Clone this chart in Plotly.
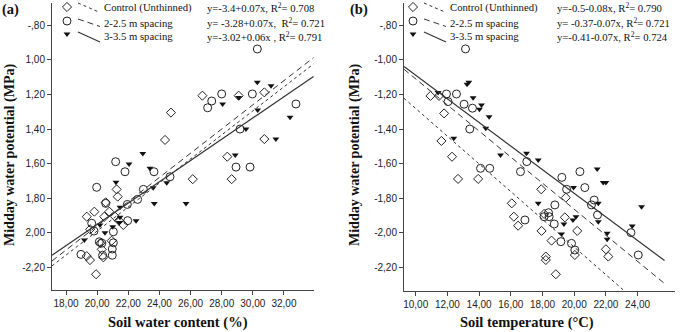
import plotly.graph_objects as go

# ---------------- data ----------------
# Panel (a): soil water content (%) vs midday water potential (MPa)
a_ctrl_x = [24.74, 24.36, 26.76, 29.09, 30.74, 30.74, 28.36, 28.64, 26.14, 21.25, 21.32, 20.55, 20.78, 19.82,
            19.33, 20.46, 21.15, 21.68, 19.55, 20.93, 20.29, 20.40, 19.33, 19.54, 19.93, 20.20, 21.40]
a_ctrl_y = [-1.305, -1.463, -1.207, -1.207, -1.188, -1.458, -1.560, -1.690, -1.690, -1.749, -1.791, -1.824, -1.878, -1.878,
            -1.907, -1.907, -1.907, -1.955, -1.980, -2.046, -2.096, -2.142, -2.135, -2.158, -2.240, -2.060, -1.930]
a_s2_x = [30.29, 28.00, 29.97, 27.36, 27.10, 32.77, 29.18, 28.92, 29.82, 21.19, 21.79, 23.65, 19.97, 22.97, 22.60,
          24.68, 20.55, 21.94, 21.96, 19.65, 21.04, 20.14, 20.30, 21.04, 20.97, 18.96, 20.97, 20.35, 19.80]
a_s2_y = [-0.937, -1.197, -1.197, -1.238, -1.277, -1.255, -1.400, -1.620, -1.620, -1.589, -1.647, -1.647, -1.737, -1.749, -1.807,
          -1.676, -1.830, -1.836, -1.930, -1.945, -1.994, -2.052, -2.060, -2.058, -2.094, -2.125, -2.130, -2.130, -1.990]
a_s3_x = [30.29, 31.17, 29.09, 28.06, 30.31, 32.39, 29.56, 31.48, 28.87, 22.93, 22.05, 23.39, 21.21, 24.47, 23.60,
          23.67, 25.71, 21.47, 21.47, 22.50, 21.42, 20.18, 21.00, 20.50, 19.18]
a_s3_y = [-1.130, -1.149, -1.217, -1.255, -1.290, -1.332, -1.400, -1.458, -1.550, -1.541, -1.602, -1.627, -1.708, -1.710, -1.740,
          -1.830, -1.830, -1.853, -1.910, -1.930, -1.940, -1.955, -1.965, -2.000, -2.042]

# Panel (b): soil temperature (°C) vs midday water potential (MPa)
b_ctrl_x = [10.93, 11.47, 11.79, 11.62, 12.29, 12.67, 13.94, 16.06, 16.19, 16.46, 17.92, 17.94, 18.10, 18.57, 18.84,
            18.21, 18.21, 19.47, 19.41, 20.04, 20.19, 22.00, 22.15]
b_ctrl_y = [-1.209, -1.209, -1.310, -1.469, -1.560, -1.688, -1.688, -1.829, -1.906, -1.958, -1.748, -1.988, -1.890, -2.044, -2.238,
            -2.136, -2.156, -1.796, -1.910, -2.127, -1.988, -2.094, -2.136]
b_s2_x = [13.14, 11.94, 12.04, 12.57, 13.05, 13.58, 13.41, 14.09, 14.67, 17.01, 16.61, 16.89, 18.78, 18.10, 18.42,
          18.38, 18.74, 19.22, 19.52, 20.36, 20.67, 21.26, 21.09, 21.47, 19.16, 19.83, 20.04, 23.58, 24.04]
b_s2_y = [-0.938, -1.198, -1.242, -1.198, -1.257, -1.280, -1.400, -1.627, -1.627, -1.588, -1.646, -1.925, -1.838, -1.906, -1.906,
          -1.883, -1.948, -1.679, -1.748, -1.646, -1.738, -1.810, -1.838, -1.896, -2.050, -2.060, -2.098, -1.998, -2.127]
b_s3_x = [13.24, 13.35, 13.62, 14.02, 14.15, 14.63, 14.42, 11.41, 12.40, 15.35, 16.99, 17.73, 17.73, 19.96, 21.45,
          21.83, 22.00, 21.52, 21.52, 24.25, 23.66, 22.08, 22.08, 19.35, 19.92, 20.11, 19.20]
b_s3_y = [-1.142, -1.130, -1.219, -1.286, -1.261, -1.329, -1.396, -1.190, -1.453, -1.550, -1.540, -1.579, -1.829, -1.738, -1.631,
          -1.708, -1.708, -1.829, -1.935, -1.848, -1.960, -2.002, -2.036, -1.948, -1.925, -1.906, -2.006]

# Fitted lines (intercept, slope) as drawn, and x extent of each fit
a_fit_intercept = [-3.38, -3.36, -3.181]
a_fit_slope = [0.0695, 0.070, 0.0615]
a_fit_xrange = [17.1, 33.9]
b_fit_intercept = [-0.483, -0.359, -0.409]
b_fit_slope = [-0.0799, -0.0752, -0.0681]
b_fit_xrange = [9.26, 25.7]

series_names = ["Control (Unthinned)", "2-2.5 m spacing", "3-3.5 m spacing"]
a_equations = ["y=-3.4+0.07x, R<sup>2</sup>= 0.708", "y= -3.28+0.07x,  R<sup>2</sup>= 0.721",
               "y=-3.02+0.06x , R<sup>2</sup>= 0.791"]
b_equations = ["y=-0.5-0.08x, R<sup>2</sup>= 0.790", "y= -0.37-0.07x, R<sup>2</sup>= 0.721",
               "y=-0.41-0.07x, R<sup>2</sup>= 0.724"]

a_xticks = [18, 20, 22, 24, 26, 28, 30, 32]
a_xticktext = ["18,00", "20,00", "22,00", "24,00", "26,00", "28,00", "30,00", "32,00"]
b_xticks = [10, 12, 14, 16, 18, 20, 22, 24]
b_xticktext = ["10,00", "12,00", "14,00", "16,00", "18,00", "20,00", "22,00", "24,00"]
yticks = [-0.8, -1.0, -1.2, -1.4, -1.6, -1.8, -2.0, -2.2]
a_yticktext = ["-,80", "1,00", "1,20", "1,40", "1,60", "1,80", "2,00", "-2,20"]
b_yticktext = ["-,80", "-1,00", "-1,20", "-1,40", "-1,60", "-1,80", "-2,00", "-2,20"]

# ---------------- styling ----------------
W, H = 685, 332
INK = "#222222"
marker_styles = [
    dict(symbol="diamond-open", size=7, color=INK, line=dict(width=1, color=INK)),
    dict(symbol="circle-open", size=8, color=INK, line=dict(width=1, color=INK)),
    dict(symbol="triangle-down", size=6, color="#111111", line=dict(width=0)),
]
line_styles = [
    dict(color="#333333", width=1, dash="dot"),
    dict(color="#333333", width=1, dash="6px,4px"),
    dict(color="#333333", width=1.2, dash="solid"),
]

def px_to_paper_x(p):
    return p / W

def px_to_paper_y(p):
    return 1 - p / H

fig = go.Figure()

panels = [
    dict(xa="x", ya="y", xs=[a_ctrl_x, a_s2_x, a_s3_x], ys=[a_ctrl_y, a_s2_y, a_s3_y],
         ic=a_fit_intercept, sl=a_fit_slope, xr=a_fit_xrange),
    dict(xa="x2", ya="y2", xs=[b_ctrl_x, b_s2_x, b_s3_x], ys=[b_ctrl_y, b_s2_y, b_s3_y],
         ic=b_fit_intercept, sl=b_fit_slope, xr=b_fit_xrange),
]

for p in panels:
    for i in range(3):
        fig.add_trace(go.Scatter(x=p["xs"][i], y=p["ys"][i], mode="markers", marker=marker_styles[i],
                                 xaxis=p["xa"], yaxis=p["ya"], showlegend=False, hoverinfo="skip"))
    for i in range(3):
        xx = p["xr"]
        yy = [p["ic"][i] + p["sl"][i] * v for v in xx]
        fig.add_trace(go.Scatter(x=xx, y=yy, mode="lines", line=line_styles[i],
                                 xaxis=p["xa"], yaxis=p["ya"], showlegend=False, hoverinfo="skip"))

# ---- manual legends in pixel overlay axis ----
legend_cfg = [
    dict(mx=67, lx0=78, lx1=100, tx=102, ex=205, eqs=a_equations),
    dict(mx=413, lx0=424, lx1=446, tx=448, ex=555, eqs=b_equations),
]
marker_rows = [7, 21, 34]
text_rows = [8, 23, 36]
line_rows = [(3, 12.5), (19, 26.5), (32, 42)]
legend_font = dict(family="Liberation Serif", size=10.7, color="#111")
annotations = []
for cfg in legend_cfg:
    for i in range(3):
        fig.add_trace(go.Scatter(x=[cfg["mx"]], y=[marker_rows[i]], mode="markers", marker=marker_styles[i],
                                 xaxis="x3", yaxis="y3", showlegend=False, hoverinfo="skip"))
        fig.add_trace(go.Scatter(x=[cfg["lx0"], cfg["lx1"]], y=list(line_rows[i]), mode="lines",
                                 line=line_styles[i], xaxis="x3", yaxis="y3", showlegend=False, hoverinfo="skip"))
        annotations.append(dict(x=px_to_paper_x(cfg["tx"]), y=px_to_paper_y(text_rows[i]), xref="paper", yref="paper",
                                text=series_names[i], showarrow=False, xanchor="left", yanchor="middle",
                                font=legend_font))
        annotations.append(dict(x=px_to_paper_x(cfg["ex"]), y=px_to_paper_y(text_rows[i]), xref="paper", yref="paper",
                                text=cfg["eqs"][i], showarrow=False, xanchor="left", yanchor="middle",
                                font=legend_font))

title_font = dict(family="Liberation Serif", size=14.5, color="#111")
ytitle_font = dict(family="Liberation Serif", size=14, color="#111")
annotations += [
    dict(x=px_to_paper_x(10), y=px_to_paper_y(9), xref="paper", yref="paper", text="<b>(a)</b>",
         showarrow=False, xanchor="center", yanchor="middle", font=title_font),
    dict(x=px_to_paper_x(359), y=px_to_paper_y(9), xref="paper", yref="paper", text="<b>(b)</b>",
         showarrow=False, xanchor="center", yanchor="middle", font=title_font),
    dict(x=px_to_paper_x(178), y=px_to_paper_y(322), xref="paper", yref="paper", text="<b>Soil water content (%)</b>",
         showarrow=False, xanchor="center", yanchor="middle", font=title_font),
    dict(x=px_to_paper_x(527), y=px_to_paper_y(322), xref="paper", yref="paper", text="<b>Soil temperature (°C)</b>",
         showarrow=False, xanchor="center", yanchor="middle", font=title_font),
    dict(x=px_to_paper_x(10), y=px_to_paper_y(155), xref="paper", yref="paper",
         text="<b>Midday water potential (MPa)</b>", textangle=-90,
         showarrow=False, xanchor="center", yanchor="middle", font=ytitle_font),
    dict(x=px_to_paper_x(355), y=px_to_paper_y(155), xref="paper", yref="paper",
         text="<b>Midday water potential (MPa)</b>", textangle=-90,
         showarrow=False, xanchor="center", yanchor="middle", font=ytitle_font),
]

tick_font = dict(family="Liberation Sans", size=10, color="#222")
axis_common = dict(showgrid=False, zeroline=False, showline=True, linecolor="#444", linewidth=1,
                   ticks="outside", ticklen=4, tickcolor="#444", tickfont=tick_font, mirror=False)

ydom = [px_to_paper_y(290), px_to_paper_y(3)]
fig.update_layout(
    width=W, height=H, margin=dict(l=0, r=0, t=0, b=0),
    paper_bgcolor="white", plot_bgcolor="rgba(0,0,0,0)", showlegend=False,
    xaxis=dict(domain=[px_to_paper_x(52), px_to_paper_x(314)], range=[17.1, 33.93], anchor="y",
               tickvals=a_xticks, ticktext=a_xticktext, **axis_common),
    yaxis=dict(domain=ydom, range=[-2.331, -0.671], anchor="x",
               tickvals=yticks, ticktext=a_yticktext, **axis_common),
    xaxis2=dict(domain=[px_to_paper_x(404), px_to_paper_x(675)], range=[9.26, 26.36], anchor="y2",
                tickvals=b_xticks, ticktext=b_xticktext, **axis_common),
    yaxis2=dict(domain=[px_to_paper_y(290.7), px_to_paper_y(3)], range=[-2.333, -0.673], anchor="x2",
                tickvals=yticks, ticktext=b_yticktext, **axis_common),
    xaxis3=dict(domain=[0, 1], range=[0, W], visible=False, anchor="y3", fixedrange=True),
    yaxis3=dict(domain=[0, 1], range=[H, 0], visible=False, anchor="x3", fixedrange=True),
    annotations=annotations,
)

fig.write_html("out.html", config={"displayModeBar": False},
               post_script="document.body.style.margin='0px';document.body.style.overflow='hidden';")
